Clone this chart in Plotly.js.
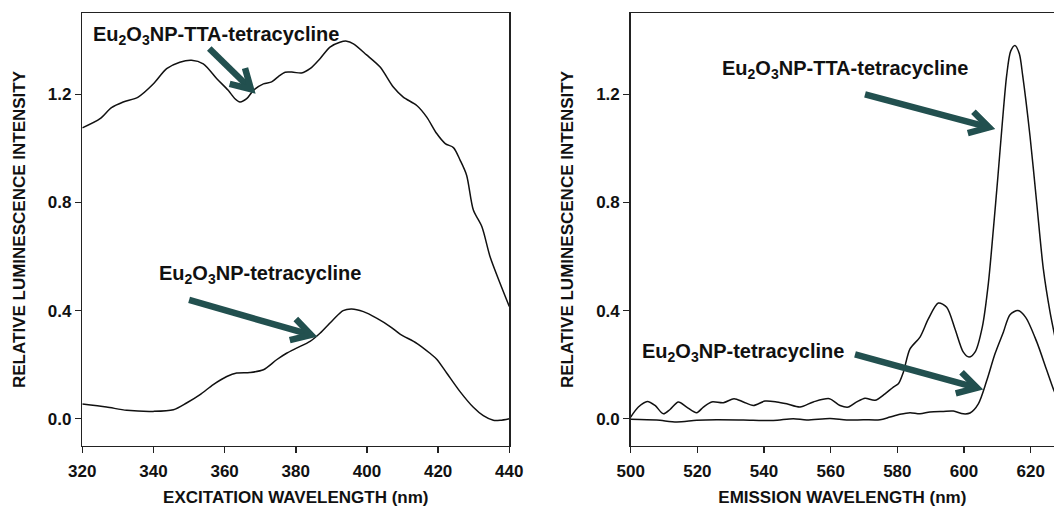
<!DOCTYPE html>
<html>
<head>
<meta charset="utf-8">
<script src="https://cdn.plot.ly/plotly-3.0.1.min.js"></script>
<style>html,body{margin:0;padding:0;background:#fff;overflow:hidden}</style>
</head>
<body>
<div id="chart" style="width:1054px;height:507px"></div>
<script>
// ---- Excitation spectra (left panel) ----
const excTTA_x = [320,325,328.2,331.5,335.7,340,343.7,347.4,350.7,354,357.8,361,362.9,364.3,366.2,368.1,370.9,373.2,375.1,377,379.3,381.6,384,386.8,389.6,392.4,394.3,396.2,399.9,403.7,407.4,410.2,414,416.8,419.6,422,424.3,426.2,428,429.9,432.3,434.6,437.4,440];
const excTTA_y = [1.076,1.110,1.151,1.172,1.190,1.239,1.295,1.319,1.326,1.313,1.258,1.215,1.184,1.172,1.184,1.215,1.239,1.246,1.266,1.282,1.282,1.279,1.295,1.332,1.375,1.393,1.397,1.387,1.346,1.301,1.227,1.190,1.159,1.116,1.055,1.018,1.003,0.956,0.901,0.772,0.710,0.599,0.501,0.415];

const excNP_x = [320,326.8,332.5,340,345.6,349.3,353.1,356.8,360.6,363.4,367.1,370.9,374.6,377.4,380.2,384,386.8,390.5,393.3,395.7,399,402.7,406.5,409.3,414,417.7,419.6,422.4,426.1,429.9,432.7,435.5,437.4,440];
const excNP_y = [0.054,0.043,0.031,0.027,0.033,0.058,0.089,0.126,0.156,0.169,0.171,0.181,0.218,0.242,0.261,0.286,0.316,0.366,0.400,0.406,0.396,0.372,0.341,0.313,0.279,0.242,0.220,0.169,0.101,0.042,0.011,-0.006,-0.006,0.000];

// ---- Emission spectra (right panel) ----
const emTTA_x = [500,502.3,505,507.3,509.8,511.8,514.3,516.8,519.8,521.8,524.3,527.8,531,533.8,536.8,540.3,543.8,546.8,550.8,554.8,559.6,562.8,565.3,567.8,570.3,573.3,576.3,578.8,580.3,581.8,583.8,586.8,589.3,592.3,594.8,597.3,599.8,601.5,603.3,605.5,607.3,608.8,610.2,611.4,612.8,614.0,615.3,616.6,617.6,619.8,621.8,623.8,625.8,627.5];
const emTTA_y = [0.006,0.043,0.064,0.049,0.018,0.034,0.062,0.043,0.022,0.043,0.062,0.059,0.074,0.062,0.049,0.065,0.062,0.055,0.043,0.062,0.074,0.049,0.043,0.062,0.076,0.068,0.092,0.117,0.129,0.172,0.258,0.302,0.369,0.428,0.412,0.332,0.246,0.228,0.246,0.340,0.500,0.700,0.900,1.080,1.270,1.360,1.381,1.350,1.270,1.046,0.800,0.554,0.395,0.290];

const emNP_x = [500,507.8,513.8,519.8,525.8,533.8,542.8,548.8,552.8,559.8,564.8,569.8,574.8,577.8,580.8,583.8,586.8,589.8,593.8,596.8,599.8,601.8,604.3,606.8,609.3,611.8,613.8,616.2,618.5,621.8,624.8,626.8,628];
const emNP_y = [-0.002,-0.005,-0.012,-0.006,-0.004,-0.005,-0.007,0.000,-0.005,0.001,-0.005,-0.004,-0.004,0.006,0.016,0.022,0.018,0.025,0.027,0.028,0.018,0.021,0.055,0.140,0.240,0.320,0.385,0.400,0.375,0.285,0.180,0.110,0.075];

// ---- Text labels ----
const labelTTA = 'Eu<sub>2</sub>O<sub>3</sub>NP-TTA-tetracycline';
const labelNP = 'Eu<sub>2</sub>O<sub>3</sub>NP-tetracycline';
const yTitle = 'RELATIVE LUMINESCENCE INTENSITY';
const xTitleLeft = 'EXCITATION WAVELENGTH (nm)';
const xTitleRight = 'EMISSION WAVELENGTH (nm)';

const W = 1054, H = 507;
const FONT = 'Liberation Sans, Arial, Helvetica, sans-serif';
const ARROW = '#22504f';
const LINE = '#111';

function curve(x, y, xa, ya) {
  return {x: x, y: y, xaxis: xa, yaxis: ya, type: 'scatter', mode: 'lines',
          line: {color: LINE, width: 1.5, shape: 'spline', smoothing: 0.8},
          hoverinfo: 'skip'};
}
const data = [
  curve(excTTA_x, excTTA_y, 'x', 'y'),
  curve(excNP_x, excNP_y, 'x', 'y'),
  curve(emTTA_x, emTTA_y, 'x2', 'y2'),
  curve(emNP_x, emNP_y, 'x2', 'y2')
];

function axisBase() {
  return {
    showline: true, linecolor: '#222', linewidth: 1.5,
    ticks: 'outside', ticklen: 6, tickwidth: 1.5, tickcolor: '#222',
    showgrid: false, zeroline: false, automargin: false,
    tickfont: {family: FONT, size: 17, color: '#111', weight: 'bold'}
  };
}
const yDomain = [(H - 445.7) / H, (H - 13.3) / H];
const titleFont = {family: FONT, size: 17, color: '#111', weight: 'bold'};

const xaxis = Object.assign(axisBase(), {
  domain: [82.3 / W, 509.3 / W], range: [320, 440], dtick: 20, tick0: 320, mirror: true, anchor: 'y',
  ticklabelstandoff: 3,
  title: {text: xTitleLeft, font: titleFont, standoff: 16}
});
const yaxis = Object.assign(axisBase(), {
  domain: yDomain, range: [-0.1, 1.5], dtick: 0.4, tick0: 0, tickformat: '.1f', mirror: true, anchor: 'x',
  title: {text: yTitle, font: titleFont, standoff: 18}
});
const xaxis2 = Object.assign(axisBase(), {
  domain: [630.7 / W, 1], range: [500, 627.0], dtick: 20, tick0: 500, mirror: true, anchor: 'y2',
  ticklabelstandoff: 3,
  title: {text: xTitleRight, font: titleFont, standoff: 16}
});
const yaxis2 = Object.assign(axisBase(), {
  domain: yDomain, range: [-0.1, 1.5], dtick: 0.4, tick0: 0, tickformat: '.1f', mirror: false, anchor: 'x2',
  title: {text: yTitle, font: titleFont, standoff: 18}
});

// Arrow definitions: tip in data coords, tail as pixel offset (right, up) from the tip
const arrows = [
  {xref: 'x', yref: 'y', tx: 367.4, ty: 1.219, dx: -41.7, dy: 40.7},
  {xref: 'x', yref: 'y', tx: 384.3, ty: 0.310, dx: -122, dy: 35},
  {xref: 'x2', yref: 'y2', tx: 607.5, ty: 1.078, dx: -124, dy: 33},
  {xref: 'x2', yref: 'y2', tx: 603.9, ty: 0.114, dx: -122, dy: 33.5}
];
const shapes = [];
arrows.forEach(a => {
  const len = Math.hypot(a.dx, a.dy);
  const ux = a.dx / len, uy = a.dy / len;
  const ang = 30 * Math.PI / 180, L = 22;
  const r = (s) => [L * (ux * Math.cos(s) - uy * Math.sin(s)), L * (ux * Math.sin(s) + uy * Math.cos(s))];
  const p1 = r(ang), p2 = r(-ang);
  const common = {type: 'path', xref: a.xref, yref: a.yref, xsizemode: 'pixel', ysizemode: 'pixel',
                  xanchor: a.tx, yanchor: a.ty, line: {color: ARROW, width: 6.5}, layer: 'above'};
  shapes.push(Object.assign({}, common, {path: `M ${a.dx},${a.dy} L 0,0`}));
  shapes.push(Object.assign({}, common, {path: `M ${p1[0]},${p1[1]} L 0,0 L ${p2[0]},${p2[1]}`}));
});

function label(text, xref, yref, x, y) {
  return {text: text, xref: xref, yref: yref, x: x, y: y, xanchor: 'left', yanchor: 'middle',
          showarrow: false, font: {family: FONT, size: 20, color: '#111', weight: 'bold'}};
}
const annotations = [
  label(labelTTA, 'x', 'y', 322.4, 1.418),
  label(labelNP, 'x', 'y', 340.9, 0.532),
  label(labelTTA, 'x2', 'y2', 526.8, 1.292),
  label(labelNP, 'x2', 'y2', 502.9, 0.244)
];

const layout = {
  width: W, height: H,
  margin: {l: 0, r: 0, t: 0, b: 0, pad: 0},
  paper_bgcolor: '#fff', plot_bgcolor: '#fff',
  showlegend: false,
  font: {family: FONT, size: 17, color: '#111', weight: 'bold'},
  xaxis: xaxis, yaxis: yaxis, xaxis2: xaxis2, yaxis2: yaxis2,
  shapes: shapes, annotations: annotations
};

Plotly.newPlot('chart', data, layout, {displayModeBar: false, staticPlot: true});
</script>
</body>
</html>
